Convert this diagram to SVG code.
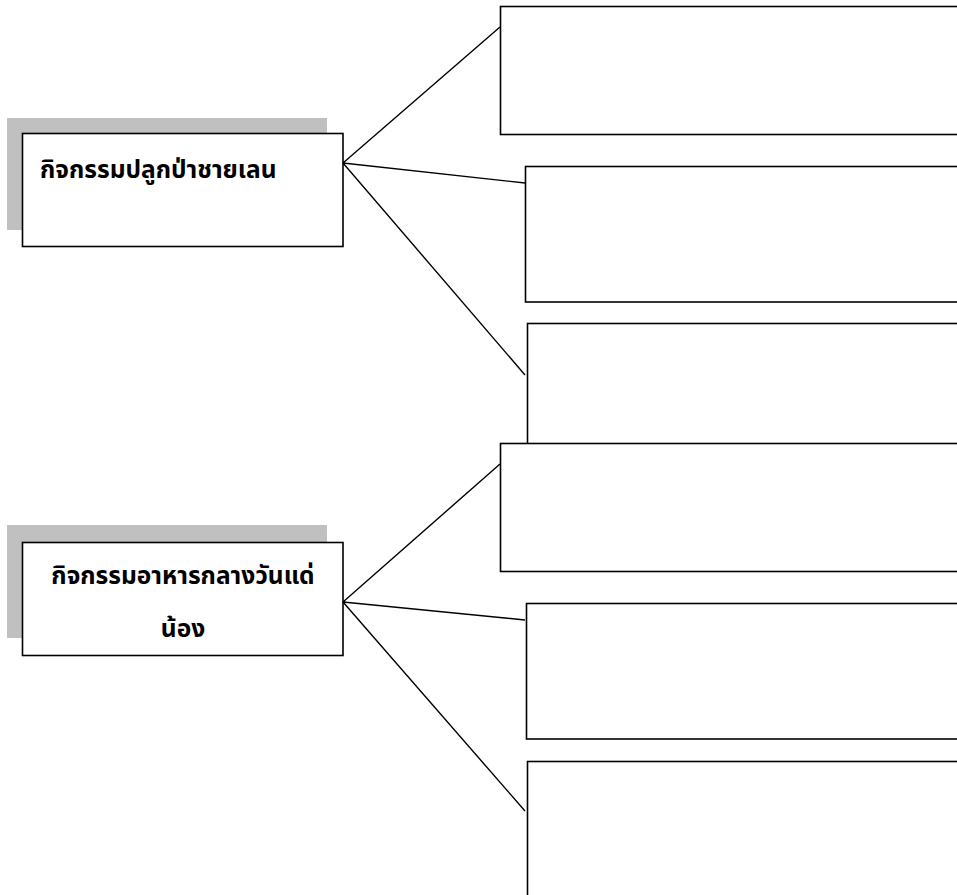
<svg xmlns="http://www.w3.org/2000/svg" width="957" height="895" viewBox="0 0 957 895">
<style>
.box{fill:#fff;stroke:#000;stroke-width:1.6}
.shadow{fill:#c0c0c0;stroke:none}
.conn{stroke:#000;stroke-width:1.4;fill:none}
.lbl{font-family:"Leelawadee UI","Tahoma","Noto Sans Thai","Noto Sans","DejaVu Sans",sans-serif;font-size:24.5px;font-weight:bold;fill:#000}
</style>
<rect width="957" height="895" fill="#fff"/>
<g id="activity1">
<rect class="shadow" x="7" y="118" width="320" height="112"/>
<rect class="box" x="22.5" y="133.5" width="320.5" height="113"/>
<text class="lbl" x="40" y="178">กิจกรรมปลูกป่าชายเลน</text>
</g>
<g id="activity2">
<rect class="shadow" x="7" y="525" width="320" height="113"/>
<rect class="box" x="22.5" y="542.5" width="320.5" height="113"/>
<text class="lbl" x="183" y="584" text-anchor="middle">กิจกรรมอาหารกลางวันแด่</text>
<text class="lbl" x="183" y="637" text-anchor="middle">น้อง</text>
</g>
<g id="box1"><rect class="box" x="500.5" y="6.5" width="500" height="128"/></g>
<g id="box2"><rect class="box" x="525.5" y="166.5" width="500" height="135.5"/></g>
<g id="box3"><rect class="box" x="527.5" y="323.5" width="500" height="130"/></g>
<g id="box4"><rect class="box" x="500.5" y="443.5" width="500" height="128"/></g>
<g id="box5"><rect class="box" x="526.5" y="603.5" width="500" height="135.5"/></g>
<g id="box6"><rect class="box" x="527.5" y="761.5" width="500" height="200"/></g>
<g id="connectors">
<path class="conn" d="M343 163 L500 27 M343 163 L525 183 M343 163 L525 375"/>
<path class="conn" d="M343 602 L500 464 M343 602 L525 620 M343 602 L525 811"/>
</g>
</svg>
